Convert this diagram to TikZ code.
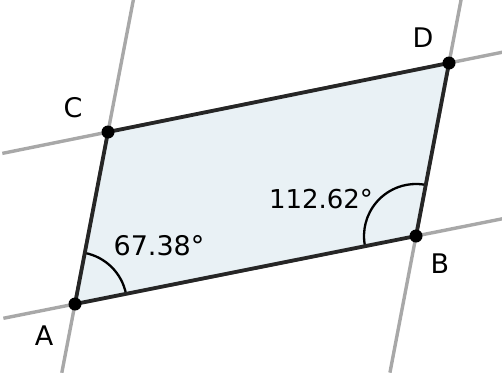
\documentclass[tikz,border=0pt]{standalone}
\usepackage{fontspec}
\setmainfont{DejaVu Sans}
\usetikzlibrary{angles,calc}
\definecolor{fillc}{HTML}{E9F1F5}
\definecolor{grayl}{HTML}{A8A8A8}
\begin{document}
\begin{tikzpicture}[x=1pt,y=-1pt,
  guide/.style={draw=grayl,line width=3.4pt},
  side/.style={draw=black!85,line width=3.8pt,line join=round},
  dot/.style={circle,fill=black,inner sep=0pt,minimum size=13pt},
  lbl/.style={font=\fontsize{27}{32}\selectfont,text=black},
  ang/.style={draw=black,line width=2.3pt,angle radius=52pt}]
\useasboundingbox (0,0) rectangle (502,372);
\coordinate (A) at (75,304);
\coordinate (B) at (416,236);
\coordinate (C) at (108,132);
\coordinate (D) at (449,63);
% guide lines
\draw[guide] ($(A)!-0.21!(B)$) -- ($(A)!1.26!(B)$);
\draw[guide] ($(C)!-0.31!(D)$) -- ($(C)!1.16!(D)$);
\draw[guide] ($(A)!-0.40!(C)$) -- ($(A)!1.77!(C)$);
\draw[guide] ($(B)!-0.79!(D)$) -- ($(B)!1.37!(D)$);
% parallelogram
\fill[fillc] (A) -- (B) -- (D) -- (C) -- cycle;
\pic[ang] {angle = B--A--C};
\pic[ang] {angle = D--B--A};
\draw[side] (A) -- (B) -- (D) -- (C) -- cycle;
\node[dot] (nA) at (A) {};
\node[dot] (nB) at (B) {};
\node[dot] (nC) at (C) {};
\node[dot] (nD) at (D) {};
\node[lbl] (lA) at (44,336) {A};
\node[lbl] (lB) at (440,264) {B};
\node[lbl] (lC) at (73,108) {C};
\node[lbl] (lD) at (423,38) {D};
\node[lbl] (a1) at (159,246) {67.38°};
\node[lbl,font=\fontsize{26}{31}\selectfont] (a2) at (321,199) {112.62°};
\end{tikzpicture}
\end{document}
